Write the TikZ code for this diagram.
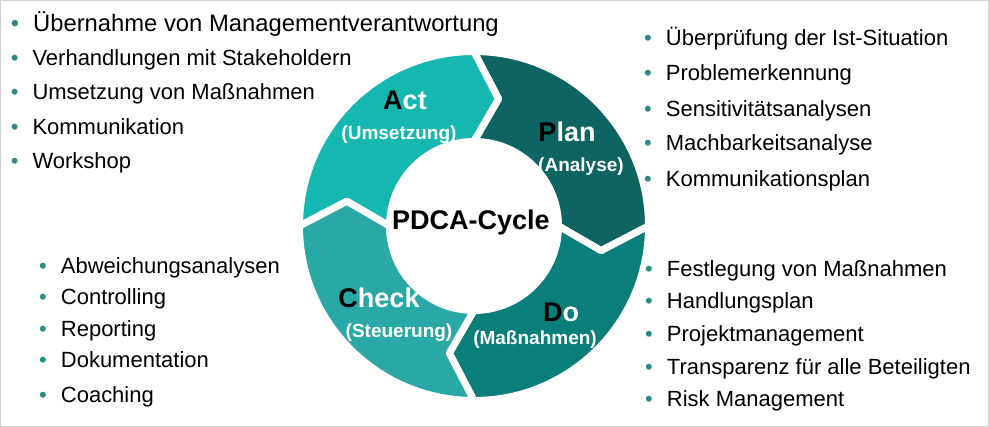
\documentclass[tikz,border=0pt]{standalone}
\usepackage{fontspec}
\setmainfont{Liberation Sans}
\usepackage{tikz}
\usetikzlibrary{positioning,calc}
\usepackage{xcolor}
\definecolor{pdcaAct}{RGB}{20,184,176}
\definecolor{pdcaPlan}{RGB}{14,100,96}
\definecolor{pdcaDo}{RGB}{10,126,120}
\definecolor{pdcaCheck}{RGB}{42,168,166}
\definecolor{bulletteal}{RGB}{44,138,132}
\definecolor{frame}{RGB}{208,208,208}
\newcommand{\bitem}[1]{\textcolor{bulletteal}{•}\hspace{14pt}#1}

\begin{document}
\begin{tikzpicture}[x=1pt, y=1pt,
    item/.style={anchor=base west, inner sep=0pt, font=\fontsize{22}{26}\selectfont},
    seglbl/.style={font=\fontsize{27}{30}\selectfont\bfseries, text=white, inner sep=0pt},
    subllbl/.style={font=\fontsize{19}{22}\selectfont\bfseries, text=white, inner sep=0pt},
    segment/.style={draw=white, line width=7pt, line join=round}]

    \useasboundingbox (0,0) rectangle (989,427);
    \draw[frame, line width=1pt] (0.5,0.5) rectangle (988.5,426.5);

    % Ring segments (clockwise: Act -> Plan -> Do -> Check)
    \def\ro{174.5}
    \def\ri{84.5}
    \def\rm{129.5}
    \def\dl{11}
    \begin{scope}[shift={(474,201)}]
        \foreach \a/\col in {180/pdcaAct, 90/pdcaPlan, 0/pdcaDo, -90/pdcaCheck} {
            \fill[segment, fill=\col] (\a:\ro) arc[start angle=\a, end angle=\a-90, radius=\ro]
                -- (\a-90-\dl:\rm) -- (\a-90:\ri)
                arc[start angle=\a-90, end angle=\a, radius=\ri]
                -- (\a-\dl:\rm) -- cycle;
        }
    \end{scope}

    % Centre
    \node[font=\fontsize{27}{30}\selectfont\bfseries, inner sep=0pt] (cycle) at (471,204) {PDCA-Cycle};

    % Segment labels
    \node[seglbl] (act) at (405,327) {\textcolor{black}{A}ct};
    \node[subllbl] (actsub) at (399,292) {(Umsetzung)};
    \node[seglbl] (plan) at (567,295) {\textcolor{black}{P}lan};
    \node[subllbl] (plansub) at (581,260) {(Analyse)};
    \node[seglbl] (do) at (561,115) {\textcolor{black}{D}o};
    \node[subllbl] (dosub) at (535,87) {(Maßnahmen)};
    \node[seglbl] (check) at (379,129) {\textcolor{black}{C}heck};
    \node[subllbl] (checksub) at (399,94) {(Steuerung)};

    % Act list (top left), first line a bit larger
    \node[item, font=\fontsize{23.8}{28}\selectfont] (actitem1) at (10.6,395.3)
        {\bitem{Übernahme von Managementverantwortung}};
    \foreach \t/\y [count=\i from 2] in {Verhandlungen mit Stakeholdern/361.5,
        Umsetzung von Maßnahmen/327, Kommunikation/292, Workshop/258.5} {
        \node[item] (actitem\i) at (10.6,\y) {\bitem{\t}};
    }

    % Plan list (top right)
    \foreach \t/\y [count=\i] in {Überprüfung der Ist-Situation/381,
        Problemerkennung/346, Sensitivitätsanalysen/310.5,
        Machbarkeitsanalyse/276, Kommunikationsplan/240.5} {
        \node[item] (planitem\i) at (644,\y) {\bitem{\t}};
    }

    % Check list (bottom left)
    \foreach \t/\y [count=\i] in {Abweichungsanalysen/153,
        Controlling/122.7, Reporting/90.3, Dokumentation/59, Coaching/24} {
        \node[item] (checkitem\i) at (39,\y) {\bitem{\t}};
    }

    % Do list (bottom right)
    \foreach \t/\y [count=\i] in {Festlegung von Maßnahmen/150.3,
        Handlungsplan/118, Projektmanagement/85.3,
        Transparenz für alle Beteiligten/52, Risk Management/20.3} {
        \node[item] (doitem\i) at (645,\y) {\bitem{\t}};
    }
\end{tikzpicture}
\end{document}
